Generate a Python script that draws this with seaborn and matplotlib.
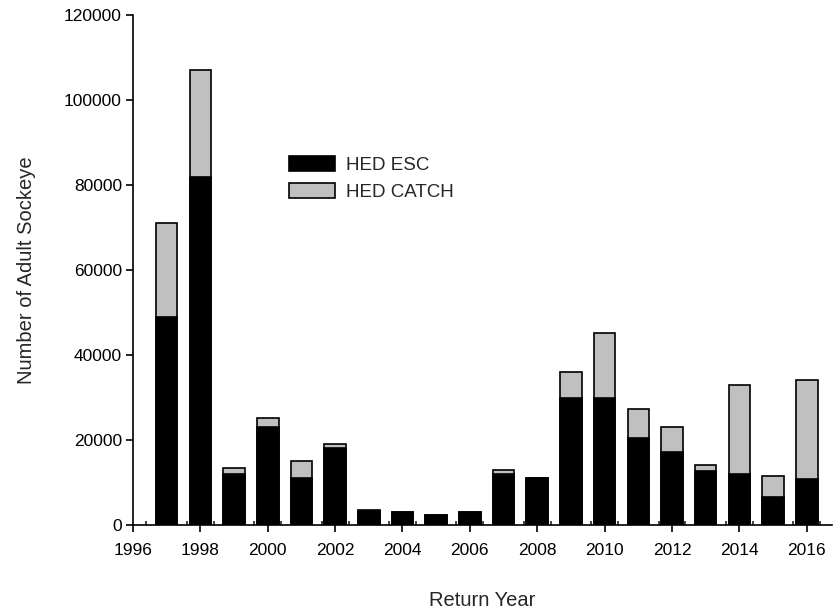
import numpy as np
import pandas as pd
import matplotlib
matplotlib.use("Agg")
import matplotlib.pyplot as plt
import seaborn as sns
from matplotlib.patches import Patch

# data
years = list(range(1997, 2017))
esc = [49000, 82000, 12000, 23000, 11000, 18200, 3300, 3100, 2400, 3100,
       12100, 11000, 30000, 30000, 20500, 17200, 12600, 12000, 6500, 10800]
catch = [22000, 25000, 1500, 2200, 4000, 800, 250, 0, 0, 0,
         800, 0, 6000, 15200, 6900, 5900, 1600, 21000, 5000, 23300]

y_ticks = [0, 20000, 40000, 60000, 80000, 100000, 120000]
x_ticks = list(range(1996, 2017, 2))

df = pd.DataFrame({"year": years, "esc": esc, "catch": catch})
df["total"] = df["esc"] + df["catch"]

sns.set_style("ticks")
plt.rcParams["font.family"] = ["Liberation Sans", "DejaVu Sans"]

fig = plt.figure(figsize=(8.37, 6.14), dpi=100)
ax = fig.add_axes([133 / 837, 1 - 525 / 614, 699 / 837, 510 / 614])

# gray = full height (catch on top), black = escapement drawn over it
sns.barplot(data=df, x="year", y="total", native_scale=True, color="#c0c0c0",
            saturation=1, edgecolor="black", linewidth=1.2, width=0.64,
            errorbar=None, ax=ax)
sns.barplot(data=df, x="year", y="esc", native_scale=True, color="black",
            saturation=1, edgecolor="black", linewidth=1.2, width=0.64,
            errorbar=None, ax=ax)

ax.set_xlim(1996, 2016.75)
ax.set_ylim(0, 120000)
ax.set_xticks(x_ticks)
ax.set_xticklabels([str(t) for t in x_ticks])
ax.set_yticks(y_ticks)
ax.set_yticklabels([str(t) for t in y_ticks])

# small inward ticks either side of each labelled year
minor = []
for t in x_ticks:
    if t - 0.4 > 1996:
        minor.append(t - 0.4)
    minor.append(t + 0.4)
ax.set_xticks(minor, minor=True)

ax.tick_params(axis="x", which="major", direction="out", length=5, width=1.2,
               labelsize=12.5, pad=8, colors="black")
ax.tick_params(axis="x", which="minor", direction="in", length=3, width=1.2)
ax.tick_params(axis="y", direction="out", length=5, width=1.2,
               labelsize=12.5, pad=3, colors="black")

sns.despine(ax=ax)
for s in ["left", "bottom"]:
    ax.spines[s].set_linewidth(1.2)
    ax.spines[s].set_color("black")

ax.set_xlabel("Return Year", fontsize=14.5, labelpad=24)
ax.set_ylabel("Number of Adult Sockeye", fontsize=14.5, labelpad=20)

handles = [Patch(facecolor="black", edgecolor="black", linewidth=1.2),
           Patch(facecolor="#c0c0c0", edgecolor="black", linewidth=1.2)]
ax.legend(handles, ["HED ESC", "HED CATCH"], loc="upper left",
          bbox_to_anchor=(289 / 837, 1 - 156 / 614),
          bbox_transform=fig.transFigure, frameon=False, fontsize=13.5,
          handlelength=2.45, handleheight=0.82, handletextpad=0.6,
          labelspacing=0.5, borderpad=0, borderaxespad=0)

fig.savefig("out.png", dpi=100)
